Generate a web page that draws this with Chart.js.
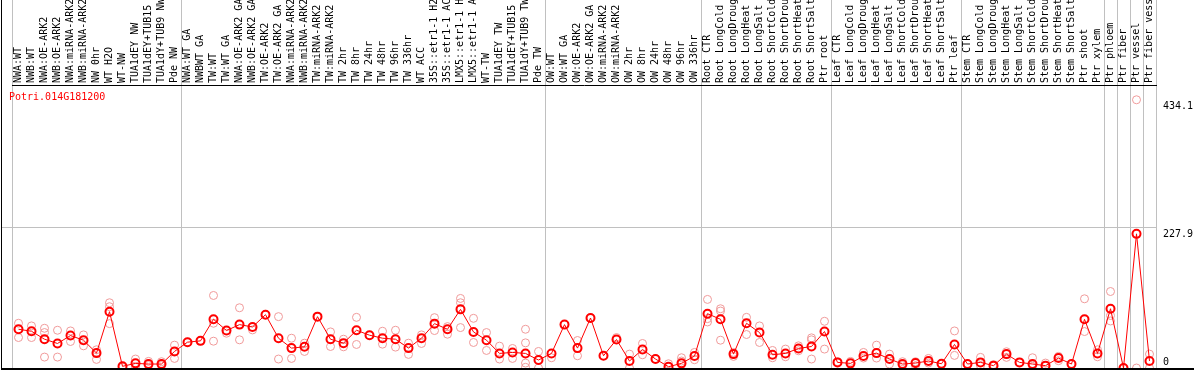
<!DOCTYPE html>
<html>
<head>
<meta charset="utf-8">
<script src="https://cdn.jsdelivr.net/npm/chart.js@4"></script>
<style>
  html, body { margin: 0; padding: 0; background: #fff; }
  #frame { position: absolute; left: 1px; top: 0; width: 1192px; height: 368px;
           border-left: 1px solid #000; border-bottom: 2px solid #000; }
  canvas { display: block; }
</style>
</head>
<body>
<div id="frame"><canvas id="chart" width="1192" height="368"></canvas></div>
<script>
// ===== expression profile, one gene =====
const geneId = 'Potri.014G181200';

const categories = [
  'NWA:WT', 'NWB:WT', 'NWA:OE-ARK2', 'NWB:OE-ARK2', 'NWA:miRNA-ARK2', 'NWB:miRNA-ARK2',
  'NW 0hr', 'WT H2O', 'WT-NW', 'TUA1dEY NW', 'TUA1dEY+TUB15 NW', 'TUA1dY+TUB9 NW', 'Pde NW',
  'NWA:WT GA', 'NWBWT GA', 'TW:WT', 'TW:WT GA', 'NWA:OE-ARK2 GA', 'NWB:OE-ARK2 GA',
  'TW:OE-ARK2', 'TW:OE-ARK2 GA', 'NWA:miRNA-ARK2', 'NWB:miRNA-ARK2', 'TW:miRNA-ARK2',
  'TW:miRNA-ARK2', 'TW 2hr', 'TW 8hr', 'TW 24hr', 'TW 48hr', 'TW 96hr', 'TW 336hr', 'WT ACC',
  '35S::etr1-1 H2O', '35S::etr1-1 ACC', 'LMX5::etr1-1 H2O', 'LMX5::etr1-1 ACC', 'WT-TW',
  'TUA1dEY TW', 'TUA1dEY+TUB15 TW', 'TUA1dY+TUB9 TW', 'Pde TW',
  'OW:WT', 'OW:WT GA', 'OW:OE-ARK2', 'OW:OE-ARK2 GA', 'OW:miRNA-ARK2', 'OW:miRNA-ARK2',
  'OW 2hr', 'OW 8hr', 'OW 24hr', 'OW 48hr', 'OW 96hr', 'OW 336hr',
  'Root CTR', 'Root LongCold', 'Root LongDrought', 'Root LongHeat', 'Root LongSalt',
  'Root ShortCold', 'Root ShortDrought', 'Root ShortHeat', 'Root ShortSalt', 'Ptr root',
  'Leaf CTR', 'Leaf LongCold', 'Leaf LongDrought', 'Leaf LongHeat', 'Leaf LongSalt',
  'Leaf ShortCold', 'Leaf ShortDrought', 'Leaf ShortHeat', 'Leaf ShortSalt', 'Ptr leaf',
  'Stem CTR', 'Stem LongCold', 'Stem LongDrought', 'Stem LongHeat', 'Stem LongSalt',
  'Stem ShortCold', 'Stem ShortDrought', 'Stem ShortHeat', 'Stem ShortSalt',
  'Ptr shoot', 'Ptr xylem', 'Ptr phloem', 'Ptr fiber', 'Ptr vessel', 'Ptr fiber vessel',
];

// mean of replicates (red line)
const meanValues = [
  62.7, 59.5, 46.6, 39.7, 52.5, 45.0, 24.1, 91.1, 2.7, 7.5, 6.4, 6.4, 26.8,
  41.8, 43.9, 78.8, 60.6, 70.2, 66.4, 86.3, 48.2, 32.2, 34.3, 83.1, 46.6, 40.2,
  61.1, 53.1, 48.2, 46.6, 32.2, 48.2, 71.8, 62.7, 94.9, 58.4, 45.0, 23.6, 25.2,
  23.6, 12.9,
  23.6, 70.2, 32.2, 80.9, 19.8, 46.1, 11.3, 30.0, 14.5, 2.1, 7.5, 19.3,
  87.9, 78.8, 22.5, 72.4, 57.4, 21.4, 23.6, 31.6, 34.8, 59.0,
  9.1, 7.5, 19.3, 24.1, 14.5, 6.4, 8.0, 11.3, 6.9, 38.1,
  6.4, 9.1, 3.8, 22.5, 9.1, 6.4, 3.8, 16.1, 6.4,
  78.8, 23.6, 95.9, 0, 217.1, 11.3,
];

// individual replicates (pale circles)
const rep1 = [
  72.4, 68.1, 64.3, 61.1, 60.0, 53.6, 29.5, 105.6, 1.1, 14.5, 10.7, 10.2, 37.0,
  41.8, 43.9, 117.4, 56.3, 97.5, 61.6, 86.8, 83.1, 48.2, 40.2, 83.1, 58.4, 46.6,
  82.0, 53.1, 59.5, 61.1, 40.2, 53.6, 81.5, 67.0, 112.6, 80.4, 57.4, 35.4, 31.6,
  62.7, 26.8,
  16.6, 70.2, 44.5, 80.9, 19.8, 49.3, 22.5, 39.7, 14.5, 6.9, 16.6, 25.2,
  111.0, 95.9, 25.2, 82.0, 68.1, 28.4, 30.6, 35.9, 48.8, 75.6,
  10.2, 10.7, 25.2, 37.0, 22.5, 10.2, 10.2, 15.5, 6.9, 60.0,
  6.4, 17.2, 5.4, 26.3, 9.1, 16.6, 8.0, 18.8, 6.4,
  112.0, 29.5, 123.8, 0, 434.1, 22.5,
];
const rep2 = [
  49.3, 49.3, 57.4, 17.7, 42.9, 35.9, 13.9, 99.2, null, 1.1, 3.8, 3.8, 15.5,
  null, null, 72.4, null, 45.6, null, null, 14.5, 15.5, 26.8, null, 34.8, 34.3,
  38.1, null, 38.6, 33.8, 22.0, 39.7, 60.6, 54.7, 105.6, 41.3, 28.4, 14.5, 15.5,
  40.7, 0,
  null, null, 19.8, null, null, null, 0, 21.4, null, null, 11.3, 13.4,
  79.9, 92.2, 18.8, 54.2, 41.3, 16.6, 18.2, 27.9, 45.6, 30.6,
  null, null, 16.1, 16.1, 6.4, 3.8, 3.8, 8.0, null, 20.4,
  null, 3.8, null, 17.2, null, 2.7, null, 11.8, null,
  59.0, 18.2, 85.0, 0, 0, 0,
];
const rep3 = [
  null, null, 17.7, null, null, null, null, 71.8, null, null, null, null, null,
  null, null, 43.4, null, null, null, null, null, null, null, null, null, null,
  null, null, null, null, null, null, null, null, 65.4, null, null, null, null,
  8.0, null,
  null, null, null, null, null, null, null, null, null, null, null, null,
  74.5, 45.0, null, null, null, null, null, null, 14.5, null,
  null, null, null, null, null, null, null, null, null, null,
  null, null, null, null, null, null, null, null, null,
  null, null, 76.1, null, null, null,
];
const rep4 = categories.map((_, i) => (i === 39 ? 1.1 : null));

const yTickValues = [0, 227.9, 434.1];
const yGridValue = 227.9;
const yMax = 458;
// category index where a sample group starts (grey separators)
const groupStarts = [0, 13, 41, 53, 63, 73, 84, 85, 86, 87];

const MONO = '"DejaVu Sans Mono", monospace';
const GREY = '#c0c0c0';
const CLEAR = 'rgba(0,0,0,0)';

const sideLabels = {
  id: 'sideLabels',
  afterDraw(chart) {
    const { ctx, chartArea, scales: { y } } = chart;
    ctx.save();
    ctx.font = `10px ${MONO}`;
    ctx.textAlign = 'left';
    ctx.fillStyle = '#ff0000';
    ctx.textBaseline = 'middle';
    ctx.fillText(geneId, chartArea.left - 3, chartArea.top + 12);
    ctx.fillStyle = '#000';
    yTickValues.forEach(v => {
      const py = y.getPixelForValue(v);
      if (v === 0) {
        ctx.textBaseline = 'bottom';
        ctx.fillText(String(v), chartArea.right + 7, py - 1);
      } else {
        ctx.textBaseline = 'top';
        ctx.fillText(String(v), chartArea.right + 7, py + 2);
      }
    });
    ctx.restore();
  },
};

function repDataset(data) {
  return {
    data,
    showLine: false,
    pointRadius: 4,
    pointBorderWidth: 1,
    pointBorderColor: '#f09a9a',
    pointBackgroundColor: CLEAR,
    borderColor: '#f09a9a',
  };
}

new Chart(document.getElementById('chart').getContext('2d'), {
  type: 'line',
  data: {
    labels: categories,
    datasets: [
      {
        data: meanValues,
        borderColor: '#ff0000',
        borderWidth: 1,
        tension: 0,
        pointRadius: 4,
        pointBorderWidth: 2,
        pointBorderColor: '#ff0000',
        pointBackgroundColor: CLEAR,
      },
      repDataset(rep1),
      repDataset(rep2),
      repDataset(rep3),
      repDataset(rep4),
    ],
  },
  options: {
    responsive: false,
    animation: false,
    devicePixelRatio: 1,
    layout: { padding: 0, autoPadding: false },
    plugins: { legend: { display: false }, tooltip: { enabled: false } },
    scales: {
      x: {
        type: 'category',
        position: 'top',
        offset: true,
        grid: {
          offset: true,
          lineWidth: 1,
          tickLength: 86,
          color: c => (c.index === undefined || groupStarts.includes(c.index) ? GREY : CLEAR),
        },
        border: { display: true, color: '#000', width: 1 },
        ticks: {
          autoSkip: false,
          minRotation: 90,
          maxRotation: 90,
          padding: -84,
          labelOffset: 12,
          color: '#000',
          font: { family: MONO, size: 10 },
        },
        afterFit(scale) {
          scale.height = 85;
          scale.paddingLeft = 0;
          scale.paddingRight = 0;
        },
      },
      y: {
        position: 'right',
        min: 0,
        max: yMax,
        afterBuildTicks(scale) { scale.ticks = yTickValues.map(v => ({ value: v })); },
        grid: {
          drawTicks: false,
          color: c => (c.tick && c.tick.value === yGridValue ? GREY : CLEAR),
        },
        border: { display: false },
        ticks: { display: false },
        afterFit(scale) { scale.width = 38; },
      },
      yLeft: {
        position: 'left',
        min: 0,
        max: yMax,
        afterBuildTicks(scale) { scale.ticks = [{ value: yGridValue }]; },
        grid: { drawOnChartArea: false, tickLength: 10, color: GREY },
        border: { display: false },
        ticks: { display: false },
        afterFit(scale) { scale.width = 10; },
      },
    },
  },
  plugins: [sideLabels],
});
</script>
</body>
</html>
